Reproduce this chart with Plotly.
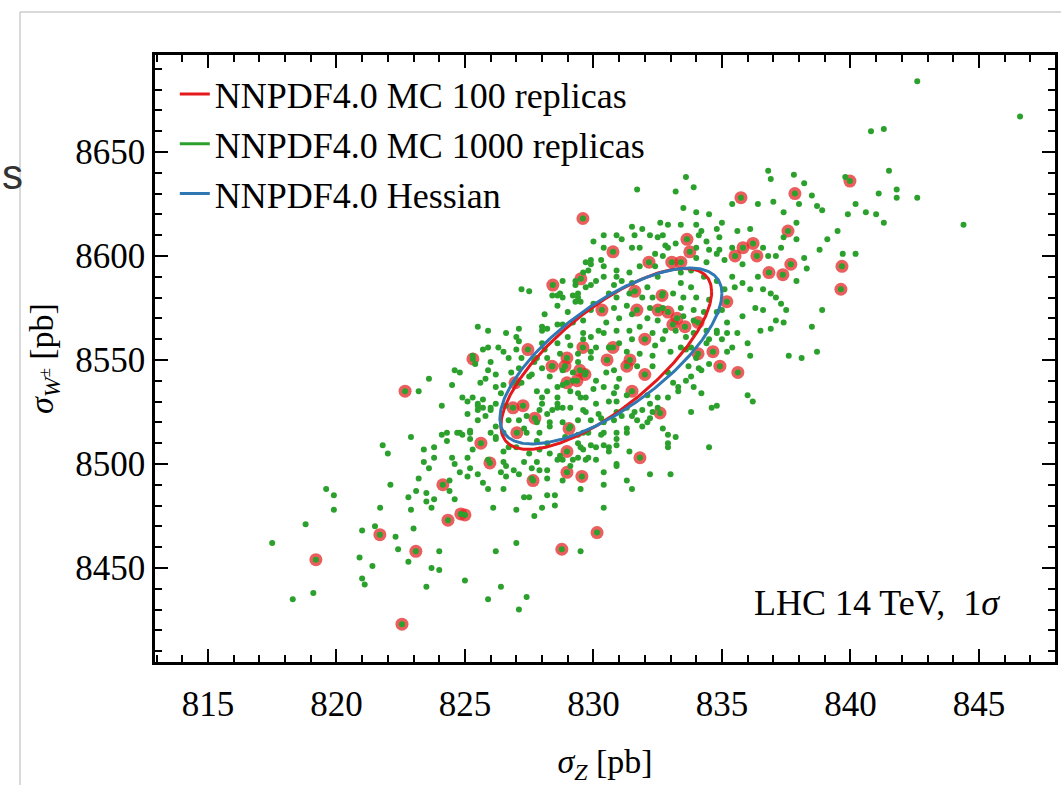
import numpy as np
import plotly.graph_objects as go

# ---------------- data (sigma_Z [pb], sigma_W+- [pb]) ----------------
# NNPDF4.0 MC, 100 replicas
mc100 = [
    (819.2, 8454), (822.55, 8423), (822.67, 8535), (821.69, 8466), (823.09, 8458), (824.34, 8473),
    (824.84, 8476), (825.0, 8475.5), (824.14, 8490), (825.31, 8550.5), (825.62, 8510), (825.97, 8500.5),
    (826.87, 8527), (826.95, 8539), (827.02, 8515), (827.26, 8528), (827.45, 8555), (827.65, 8492),
    (827.72, 8522), (828.42, 8586), (828.77, 8459), (828.97, 8506), (828.97, 8496), (829.55, 8494),
    (830.14, 8467), (831.81, 8503), (829.05, 8517), (828.97, 8551), (829.59, 8556), (828.39, 8547),
    (828.97, 8539), (829.36, 8540), (829.47, 8545), (829.67, 8543), (829.59, 8618), (829.51, 8589),
    (830.76, 8602), (832.16, 8597), (833.05, 8597), (833.40, 8597), (833.64, 8608), (833.75, 8602),
    (835.74, 8628), (837.84, 8630), (839.98, 8636), (837.57, 8612), (835.82, 8604), (836.21, 8606),
    (836.36, 8600), (835.51, 8600), (836.83, 8592), (837.37, 8591), (837.68, 8596), (839.67, 8595),
    (839.63, 8584), (832.67, 8581), (831.69, 8574), (830.33, 8574), (832.51, 8574), (832.90, 8573),
    (833.25, 8570), (833.56, 8566), (833.09, 8567), (832.00, 8560), (830.53, 8550), (831.42, 8550),
    (831.30, 8547), (832.00, 8543), (828.89, 8547), (834.65, 8554), (834.92, 8547), (835.62, 8544),
    (834.07, 8553), (834.07, 8568), (835.19, 8578), (832.59, 8524.5), (831.61, 8583), (831.50, 8535),
    (830.76, 8556),
]

# NNPDF4.0 MC, 1000 replicas (the replicas not already in the 100 set), by region
mc1000_lower = [
    (817.5, 8462), (818.3, 8435), (818.8, 8471), (819.6, 8488), (819.9, 8485), (819.9, 8478), (819.1, 8438),
    (820.9, 8455), (821.0, 8445), (821.1, 8442), (821.4, 8451), (821.0, 8468), (821.5, 8470), (821.7, 8479),
    (821.8, 8509), (822.0, 8505), (822.1, 8490), (822.3, 8465), (822.4, 8459), (822.8, 8453), (823.0, 8469),
    (822.9, 8513), (822.9, 8478), (822.8, 8484), (823.1, 8487), (823.2, 8493), (823.5, 8486), (823.5, 8482),
    (823.7, 8479), (823.8, 8483), (823.7, 8450), (824.0, 8449), (824.0, 8458), (823.5, 8441), (823.8, 8508),
    (823.8, 8503), (823.4, 8501), (824.1, 8528), (824.3, 8515), (824.3, 8511), (824.5, 8503), (824.6, 8500),
    (824.6, 8483), (824.4, 8487), (824.9, 8514), (825.1, 8503), (825.2, 8498), (825.1, 8494), (824.8, 8496),
    (825.0, 8444), (825.2, 8515), (825.3, 8507), (825.5, 8495), (825.7, 8491), (825.9, 8488), (825.8, 8523),
    (825.9, 8502), (826.2, 8458), (826.1, 8479), (825.9, 8435), (826.4, 8441), (826.5, 8488), (826.6, 8494),
    (826.6, 8499), (826.9, 8497), (827.0, 8478), (827.0, 8462), (827.1, 8430), (827.4, 8436), (827.3, 8484),
    (827.5, 8484), (827.7, 8475), (827.6, 8498), (827.3, 8501), (828.0, 8479), (828.2, 8485), (828.2, 8497),
    (828.5, 8480), (828.5, 8485), (828.8, 8492), (828.8, 8502), (829.5, 8488), (829.5, 8458), (830.4, 8479),
    (830.4, 8490), (830.6, 8506), (830.9, 8500), (831.3, 8492), (831.5, 8488), (831.4, 8506), (830.1, 8508),
    (830.3, 8514), (830.9, 8515), (831.3, 8517), (831.7, 8521), (831.9, 8526), (829.7, 8502), (829.6, 8507),
    (829.4, 8510), (828.7, 8504), (828.2, 8510), (827.8, 8511), (827.4, 8515), (826.5, 8506), (826.2, 8513),
    (826.0, 8515), (826.7, 8521), (827.4, 8523), (827.9, 8526), (828.3, 8520), (828.8, 8520), (829.6, 8515),
    (830.3, 8522), (830.9, 8525), (831.3, 8527), (829.7, 8525), (829.1, 8527), (828.6, 8527), (825.7, 8527),
    (825.5, 8529), (825.1, 8524), (824.7, 8515), (824.1, 8514), (823.4, 8507), (823.6, 8498), (824.4, 8492),
    (826.7, 8508),
]

mc1000_left = [
    (823.2, 8535), (823.6, 8541), (824.5, 8538), (824.6, 8545), (824.8, 8544), (824.9, 8532), (825.1, 8530),
    (825.3, 8552), (825.5, 8566), (825.9, 8564), (825.7, 8555), (825.9, 8545), (826.0, 8549), (825.8, 8541),
    (826.3, 8556), (826.5, 8554), (826.6, 8563), (826.7, 8551), (826.8, 8544), (826.2, 8543), (826.2, 8537),
    (826.4, 8534), (826.6, 8528), (826.0, 8527), (825.7, 8531), (825.5, 8526), (825.2, 8516), (824.8, 8515),
    (825.2, 8512), (826.2, 8518), (827.0, 8561), (827.1, 8565), (827.1, 8559), (827.2, 8584), (827.5, 8583),
    (828.1, 8572), (828.0, 8564), (828.2, 8565), (828.6, 8567), (828.8, 8580), (828.8, 8588), (829.2, 8581),
    (829.3, 8578), (828.6, 8576), (829.0, 8561), (829.6, 8592), (829.7, 8597), (829.9, 8598), (830.0, 8607),
    (829.7, 8585), (830.0, 8577), (829.6, 8563), (829.6, 8560), (829.9, 8561), (827.5, 8542), (827.8, 8535),
    (828.0, 8529), (828.2, 8535), (828.6, 8537), (828.6, 8529), (829.1, 8535), (829.5, 8532), (829.9, 8521),
    (830.1, 8529), (828.3, 8518), (827.9, 8515), (828.9, 8513), (827.1, 8539), (827.7, 8550), (828.2, 8551),
    (828.7, 8553), (829.4, 8549), (829.9, 8551), (829.7, 8544), (830.1, 8540), (830.1, 8556), (830.2, 8564),
    (828.8, 8545), (829.2, 8544), (828.3, 8542), (828.0, 8566),
]

mc1000_upper = [
    (833.6, 8638), (833.9, 8633), (831.7, 8632), (833.2, 8631), (836.8, 8641), (836.9, 8637), (837.8, 8639),
    (838.2, 8635), (839.8, 8638), (841.5, 8641), (841.1, 8630), (841.8, 8632), (841.8, 8628), (842.6, 8628),
    (844.4, 8615), (833.5, 8623), (834.0, 8621), (834.5, 8620), (835.4, 8625), (836.4, 8625), (837.0, 8626),
    (837.4, 8621), (838.0, 8625), (838.5, 8629), (838.7, 8624), (838.9, 8622), (839.9, 8620), (840.2, 8625),
    (840.6, 8621), (841.0, 8620), (841.3, 8616), (839.5, 8612), (839.1, 8608), (838.8, 8603), (839.7, 8601),
    (840.2, 8601), (838.2, 8599), (838.3, 8594), (837.9, 8588), (837.9, 8616), (837.9, 8608), (837.4, 8609),
    (837.3, 8604), (836.8, 8600), (837.1, 8600), (836.6, 8604), (836.1, 8613), (835.6, 8612), (835.0, 8616),
    (834.8, 8613), (834.2, 8612), (834.0, 8615), (833.4, 8615), (832.9, 8615), (832.6, 8616), (831.9, 8613),
    (831.5, 8614), (831.5, 8604), (830.3, 8598), (829.9, 8596), (831.1, 8608), (832.2, 8610), (832.5, 8609),
    (832.8, 8605), (832.4, 8601), (831.4, 8592), (830.9, 8590), (830.4, 8590), (829.9, 8586), (829.3, 8588),
    (828.7, 8582), (829.4, 8580), (834.4, 8607), (834.8, 8601), (835.4, 8604), (835.8, 8596), (836.4, 8590),
    (836.6, 8584), (836.9, 8582), (837.1, 8580), (837.3, 8577), (836.1, 8584), (835.8, 8587), (836.3, 8575),
    (836.6, 8574), (837.1, 8569), (837.5, 8574), (836.9, 8565), (836.5, 8564), (835.6, 8563), (835.2, 8563),
    (836.0, 8558), (836.1, 8552), (835.4, 8556), (835.2, 8568), (835.0, 8574), (835.5, 8585), (835.1, 8584),
    (835.4, 8590), (835.8, 8571), (837.4, 8568), (838.9, 8574), (838.5, 8566), (838.7, 8554), (838.1, 8551),
    (837.6, 8552), (836.0, 8533), (836.2, 8530), (834.6, 8527), (833.8, 8525), (834.5, 8508), (833.9, 8537),
    (833.6, 8540), (834.0, 8551), (834.2, 8545), (833.3, 8537), (832.9, 8532), (832.5, 8527), (832.2, 8522),
    (831.9, 8518), (831.5, 8523), (831.3, 8515), (830.9, 8512), (830.6, 8508), (833.2, 8513), (832.9, 8510),
    (834.8, 8563), (834.4, 8558), (833.9, 8563), (833.6, 8555), (840.8, 8660), (841.3, 8661), (842.6, 8684),
    (846.6, 8667),
]

mc1000_core = [
    (830.4, 8610), (830.9, 8610), (831.6, 8610), (832.7, 8610), (833.2, 8606), (834.1, 8610), (834.9, 8609),
    (834.0, 8604), (834.5, 8603), (834.9, 8603), (835.1, 8598), (834.4, 8597), (834.0, 8599), (832.7, 8600),
    (832.9, 8604), (831.8, 8604), (830.4, 8604), (830.4, 8595), (830.9, 8593), (831.8, 8595), (832.4, 8595),
    (832.5, 8590), (833.4, 8592), (833.8, 8593), (834.3, 8590), (833.4, 8587), (833.8, 8585), (834.0, 8580),
    (833.5, 8580), (833.1, 8582), (832.7, 8582), (832.3, 8580), (831.9, 8580), (831.4, 8582), (830.9, 8580),
    (830.6, 8582), (830.8, 8586), (831.1, 8588), (831.5, 8587), (832.1, 8585), (831.3, 8576), (830.8, 8575),
    (832.2, 8575), (832.7, 8575), (833.4, 8575), (833.9, 8574), (834.3, 8573), (834.8, 8573), (834.5, 8579),
    (834.8, 8588), (834.8, 8564), (834.4, 8564), (833.9, 8569), (833.5, 8571), (832.5, 8569), (832.1, 8570),
    (831.5, 8572), (831.0, 8570), (830.5, 8568), (830.4, 8563), (830.9, 8564), (831.4, 8564), (831.8, 8566),
    (832.3, 8563), (832.8, 8564), (833.2, 8564), (833.6, 8561), (832.7, 8560), (832.4, 8557), (831.5, 8560),
    (831.0, 8558), (830.6, 8556), (831.3, 8554), (831.8, 8553), (832.3, 8552), (833.0, 8554), (833.4, 8556),
    (833.8, 8556), (834.5, 8560), (835.0, 8560), (835.2, 8554),
    (829.8, 8593), (830.1, 8588), (829.4, 8582), (829.5, 8578), (828.6, 8581), (828.4, 8581), (829.3, 8586),
    (829.0, 8573), (828.8, 8567), (829.2, 8568), (829.6, 8569), (829.9, 8574), (825.9, 8556), (828.0, 8558),
    (828.1, 8555), (828.6, 8558), (829.1, 8557), (829.4, 8553), (829.9, 8554), (827.8, 8551), (827.2, 8551),
    (827.0, 8555),
    (825.4, 8548), (825.6, 8539), (825.3, 8532), (825.5, 8528), (826.0, 8526), (825.5, 8521), (826.2, 8529),
    (826.5, 8538), (827.1, 8546), (827.7, 8549), (828.0, 8546), (828.4, 8547), (827.6, 8543), (827.2, 8539),
    (828.0, 8532), (828.6, 8532), (828.8, 8538), (829.2, 8540), (829.4, 8534), (829.7, 8532), (830.0, 8536),
    (829.6, 8526), (828.8, 8527), (828.4, 8526), (828.2, 8524), (827.8, 8520), (827.3, 8517), (827.1, 8521),
    (829.1, 8518), (829.4, 8521), (830.2, 8524), (829.8, 8515), (829.4, 8514), (826.5, 8515), (826.2, 8512),
    (827.0, 8508), (827.5, 8505), (827.9, 8507), (828.3, 8505), (828.6, 8502), (827.8, 8501), (826.5, 8501),
    (826.4, 8496), (827.1, 8495), (827.9, 8497), (829.2, 8502), (829.4, 8503), (829.8, 8503), (830.1, 8502),
    (829.9, 8509), (829.5, 8508), (829.1, 8499), (828.2, 8493), (827.6, 8493),
    (830.5, 8544), (830.8, 8545), (831.0, 8541), (830.4, 8537), (830.9, 8537), (831.7, 8547), (832.3, 8547),
    (832.9, 8544), (833.1, 8539), (833.3, 8535), (833.7, 8547), (833.8, 8542), (834.1, 8546), (834.5, 8548),
    (834.2, 8534), (832.5, 8532), (832.2, 8529), (832.1, 8533), (831.3, 8533), (830.8, 8534), (830.6, 8530),
    (830.9, 8530), (831.6, 8525), (831.1, 8523), (830.8, 8521), (830.4, 8520), (832.1, 8520), (832.3, 8525),
    (832.7, 8517), (832.9, 8514), (834.8, 8528), (832.9, 8508), (830.9, 8509), (830.4, 8515), (830.4, 8509),
    (830.9, 8499), (830.4, 8496), (832.2, 8495), (833.0, 8495),
]

# 1-sigma ellipses: [MC 100 replicas, Hessian]
ell_names = ["NNPDF4.0 MC 100 replicas", "NNPDF4.0 Hessian"]
ell_colors = ["#e3191c", "#2f78b4"]
ell_cz = [830.5, 830.68]      # centre sigma_Z
ell_cw = [8550.5, 8551.9]     # centre sigma_W
ell_sz = [4.10, 4.32]         # std sigma_Z
ell_sw = [43.5, 42.3]         # std sigma_W
ell_rho = [0.74, 0.71]        # correlation

x_ticks = [815, 820, 825, 830, 835, 840, 845]
y_ticks = [8450, 8500, 8550, 8600, 8650]

GREEN = "#2ca02c"
FONT = "Liberation Serif"

# ---------------- figure ----------------
mc100_z = [p[0] for p in mc100]
mc100_w = [p[1] for p in mc100]
mc1000 = mc100 + mc1000_lower + mc1000_left + mc1000_upper + mc1000_core
mc1000_z = [p[0] for p in mc1000]
mc1000_w = [p[1] for p in mc1000]

fig = go.Figure()

fig.add_trace(go.Scatter(
    x=mc100_z, y=mc100_w, mode="markers", showlegend=False, hoverinfo="skip",
    marker=dict(size=13, color="rgba(227,40,40,0.75)", line=dict(width=0)),
))
fig.add_trace(go.Scatter(
    x=mc1000_z, y=mc1000_w, mode="markers", showlegend=False, hoverinfo="skip",
    marker=dict(size=6, color=GREEN, line=dict(width=0)),
))

t = np.linspace(0, 2 * np.pi, 361)
for i in range(len(ell_names)):
    ex = ell_cz[i] + ell_sz[i] * np.cos(t)
    ey = ell_cw[i] + ell_sw[i] * (ell_rho[i] * np.cos(t) + np.sqrt(1 - ell_rho[i] ** 2) * np.sin(t))
    fig.add_trace(go.Scatter(
        x=ex, y=ey, mode="lines", name=ell_names[i], legendrank=1 if i == 0 else 3,
        hoverinfo="skip", line=dict(color=ell_colors[i], width=3),
    ))

fig.add_trace(go.Scatter(
    x=[None], y=[None], mode="lines", name="NNPDF4.0 MC 1000 replicas", legendrank=2,
    line=dict(color=GREEN, width=3),
))

axis_common = dict(
    showline=True, linecolor="black", linewidth=2.5, mirror="allticks",
    ticks="inside", tickcolor="black", tickwidth=2, showgrid=False, zeroline=False,
    tickfont=dict(family=FONT, size=35, color="black"), automargin=False,
)

fig.update_xaxes(
    range=[812.94, 847.96], tickvals=x_ticks, ticklen=13,
    minor=dict(ticks="inside", dtick=1, tick0=815, ticklen=7, tickcolor="black", tickwidth=1.5),
    title=dict(text="<i>σ</i><sub><i>Z</i></sub> [pb]", font=dict(family=FONT, size=34), standoff=40),
    ticklabelstandoff=9,
    **axis_common,
)
fig.update_yaxes(
    range=[8404.8, 8696.6], tickvals=y_ticks, ticklen=13,
    minor=dict(ticks="inside", dtick=10, tick0=8450, ticklen=7, tickcolor="black", tickwidth=1.5),
    title=dict(text="<i>σ</i><sub><i>W</i><sup>±</sup></sub> [pb]", font=dict(family=FONT, size=34), standoff=12),
    ticklabelstandoff=0,
    **axis_common,
)

fig.update_layout(
    width=1061, height=785,
    margin=dict(l=155, r=6, t=55, b=123),
    paper_bgcolor="white", plot_bgcolor="white",
    font=dict(family=FONT, color="black"),
    legend=dict(
        x=0.022, y=0.985, xanchor="left", yanchor="top", bgcolor="rgba(0,0,0,0)",
        font=dict(family=FONT, size=36), itemwidth=30, tracegroupgap=0,
    ),
    annotations=[
        dict(text="LHC 14 TeV,  1<i>σ</i>", xref="paper", yref="paper", x=0.941, y=0.097,
             xanchor="right", yanchor="middle", showarrow=False,
             font=dict(family=FONT, size=36, color="black")),
        dict(text="s", xref="paper", yref="paper", x=-0.1712, y=0.803,
             xanchor="left", yanchor="middle", showarrow=False, borderpad=0,
             font=dict(family="Liberation Sans", size=42, color="#333333")),
    ],
    shapes=[
        dict(type="line", xref="paper", yref="paper", x0=-0.15, x1=1.01, y0=1.0708, y1=1.0708,
             line=dict(color="#cccccc", width=1.5)),
        dict(type="line", xref="paper", yref="paper", x0=-0.15, x1=-0.15, y0=1.0708, y1=-0.21,
             line=dict(color="#cccccc", width=1.5)),
    ],
)

# drop the browser's default 8 px body margin so the figure fills the window
fig.write_html(
    "out.html",
    config={"displayModeBar": False},
    post_script="document.body.style.margin='0';",
)
